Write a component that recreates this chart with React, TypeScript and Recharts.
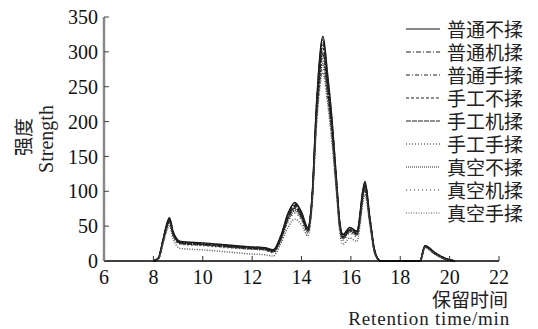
import React from 'react';
import { LineChart, Line, XAxis, YAxis } from 'recharts';

// retention time (min)
const times = [8.0, 8.2, 8.4, 8.55, 8.65, 8.8, 9.1, 10, 11, 12, 12.5, 12.85, 13.15, 13.45, 13.73, 14.0, 14.26, 14.42, 14.62, 14.87, 15.05, 15.23, 15.43, 15.55, 15.68, 15.96, 16.24, 16.57, 16.77, 16.97, 17.2, 18.8, 19.0, 19.4, 19.8, 20.2];

const putongBurou = [0, 4, 32, 54, 62, 42, 28, 26, 23, 20, 19, 16, 35, 68, 84, 70, 48, 88, 232, 322, 270, 205, 110, 55, 38, 48, 43, 114, 62, 14, 0, 0, 22, 12, 4, 0];
const putongJirou = [0, 4, 31, 53, 61, 41, 27, 25, 22, 20, 19, 15, 34, 66, 82, 68, 47, 87, 230, 318, 266, 202, 108, 54, 37, 47, 42, 112, 61, 14, 0, 0, 22, 12, 4, 0];
const putongShourou = [0, 4, 31, 52, 60, 40, 27, 25, 22, 19, 18, 15, 33, 65, 80, 67, 46, 86, 226, 312, 262, 199, 106, 53, 36, 46, 41, 110, 60, 13, 0, 0, 21, 11, 4, 0];
const shougongBurou = [0, 4, 30, 51, 59, 40, 26, 24, 21, 19, 18, 14, 32, 63, 78, 66, 45, 85, 222, 305, 257, 195, 104, 52, 35, 45, 40, 108, 59, 13, 0, 0, 21, 11, 4, 0];
const shougongJirou = [0, 4, 30, 50, 58, 39, 26, 24, 21, 18, 17, 14, 31, 62, 76, 64, 44, 84, 218, 298, 252, 191, 102, 51, 34, 44, 39, 106, 58, 13, 0, 0, 21, 11, 3, 0];
const shougongShourou = [0, 4, 29, 49, 57, 38, 25, 23, 20, 18, 17, 13, 30, 60, 74, 63, 43, 82, 214, 290, 246, 187, 100, 50, 33, 43, 38, 104, 57, 12, 0, 0, 20, 11, 3, 0];
const zhenkongBurou = [0, 3, 28, 48, 56, 37, 25, 23, 20, 17, 16, 13, 29, 58, 72, 61, 42, 81, 210, 283, 241, 183, 98, 48, 32, 42, 37, 102, 56, 12, 0, 0, 20, 10, 3, 0];
const zhenkongJirou = [0, 3, 28, 47, 55, 36, 24, 22, 19, 17, 16, 12, 28, 56, 69, 59, 40, 79, 206, 276, 235, 178, 96, 46, 30, 40, 35, 100, 55, 11, 0, 0, 20, 10, 3, 0];
const zhenkongShourou = [0, 3, 26, 44, 50, 32, 18, 16, 13, 10, 9, 7, 24, 48, 60, 52, 36, 76, 200, 270, 228, 172, 92, 42, 24, 33, 28, 95, 52, 10, 0, 0, 19, 10, 3, 0];

const xTicks = [6, 8, 10, 12, 14, 16, 18, 20, 22];
const yTicks = [0, 50, 100, 150, 200, 250, 300, 350];

const series = [
  { key: 's1', name: '普通不揉', values: putongBurou, dash: undefined, color: '#111' },
  { key: 's2', name: '普通机揉', values: putongJirou, dash: '5 2 1 2', color: '#222' },
  { key: 's3', name: '普通手揉', values: putongShourou, dash: '4 2 1 2', color: '#222' },
  { key: 's4', name: '手工不揉', values: shougongBurou, dash: '3 2', color: '#222' },
  { key: 's5', name: '手工机揉', values: shougongJirou, dash: '5 1', color: '#222' },
  { key: 's6', name: '手工手揉', values: shougongShourou, dash: '1 2', color: '#222' },
  { key: 's7', name: '真空不揉', values: zhenkongBurou, dash: '1 1', color: '#222' },
  { key: 's8', name: '真空机揉', values: zhenkongJirou, dash: '1 3', color: '#333' },
  { key: 's9', name: '真空手揉', values: zhenkongShourou, dash: '1 1.5', color: '#555' },
];

const data = times.map((t, i) => {
  const row: any = { t };
  series.forEach(s => { row[s.key] = s.values[i]; });
  return row;
});

const serif = '"Liberation Serif", "Times New Roman", "DejaVu Serif", serif';
const cjk = '"Noto Sans CJK SC", sans-serif';

const XTick = ({ x, y, payload }: any) => (
  <text x={x} y={y} dy="0.71em" textAnchor="middle" fill="#111" fontSize={20} style={{ fontFamily: serif }}>
    {payload.value}
  </text>
);

const YTick = ({ x, y, payload }: any) => (
  <text x={x} y={y} dy="0.355em" textAnchor="end" fill="#111" fontSize={20} style={{ fontFamily: serif }}>
    {payload.value}
  </text>
);

const LegendBox = () => (
  <div style={{ position: 'absolute', left: 406, top: 17, fontFamily: cjk, fontSize: 19, color: '#222' }}>
    {series.map(s => (
      <div key={s.key} style={{ display: 'flex', alignItems: 'center', height: 23.1 }}>
        <svg width={36} height={10} style={{ marginRight: 5 }}>
          <line x1={0} y1={5} x2={34} y2={5} stroke={s.color} strokeWidth={1.2} strokeDasharray={s.dash} />
        </svg>
        <span style={{ display: 'block', lineHeight: '20px' }}>{s.name}</span>
      </div>
    ))}
  </div>
);

export default function App() {
  return (
    <div style={{ position: 'absolute', left: 0, top: 0, width: 538, height: 329, background: '#fff', overflow: 'hidden' }}>
      <LineChart width={538} height={329} data={data} margin={{ top: 17, right: 39, bottom: 38, left: 0 }}>
        <XAxis
          dataKey="t"
          type="number"
          domain={[6, 22]}
          ticks={xTicks}
          allowDataOverflow
          height={30}
          tickSize={-5}
          tickMargin={14}
          axisLine={{ stroke: '#000', strokeWidth: 1.5 }}
          tickLine={{ stroke: '#333' }}
          tick={<XTick />}
        />
        <YAxis
          type="number"
          domain={[0, 350]}
          ticks={yTicks}
          width={104}
          tickSize={-5}
          tickMargin={11}
          axisLine={{ stroke: '#888', strokeWidth: 2.5 }}
          tickLine={{ stroke: '#444' }}
          tick={<YTick />}
        />
        {series.map(s => (
          <Line
            key={s.key}
            type="monotone"
            dataKey={s.key}
            name={s.name}
            stroke={s.color}
            strokeWidth={1.5}
            strokeDasharray={s.dash}
            dot={false}
            isAnimationActive={false}
          />
        ))}
      </LineChart>
      <LegendBox />
      <div style={{ position: 'absolute', left: 23, top: 137, transform: 'translate(-50%, -50%) rotate(-90deg)', fontFamily: cjk, fontSize: 19, color: '#222', whiteSpace: 'nowrap', lineHeight: '20px' }}>强度</div>
      <div style={{ position: 'absolute', left: 46, top: 139, transform: 'translate(-50%, -50%) rotate(-90deg)', fontFamily: serif, fontSize: 20, color: '#222', whiteSpace: 'nowrap', lineHeight: '18px' }}>Strength</div>
      <div style={{ position: 'absolute', right: 30, top: 290, fontFamily: cjk, fontSize: 19, color: '#222', whiteSpace: 'nowrap', lineHeight: '18px' }}>保留时间</div>
      <div style={{ position: 'absolute', right: 28, top: 308, fontFamily: serif, fontSize: 19, letterSpacing: 0.8, color: '#222', whiteSpace: 'nowrap', lineHeight: '21px' }}>Retention time/min</div>
    </div>
  );
}
